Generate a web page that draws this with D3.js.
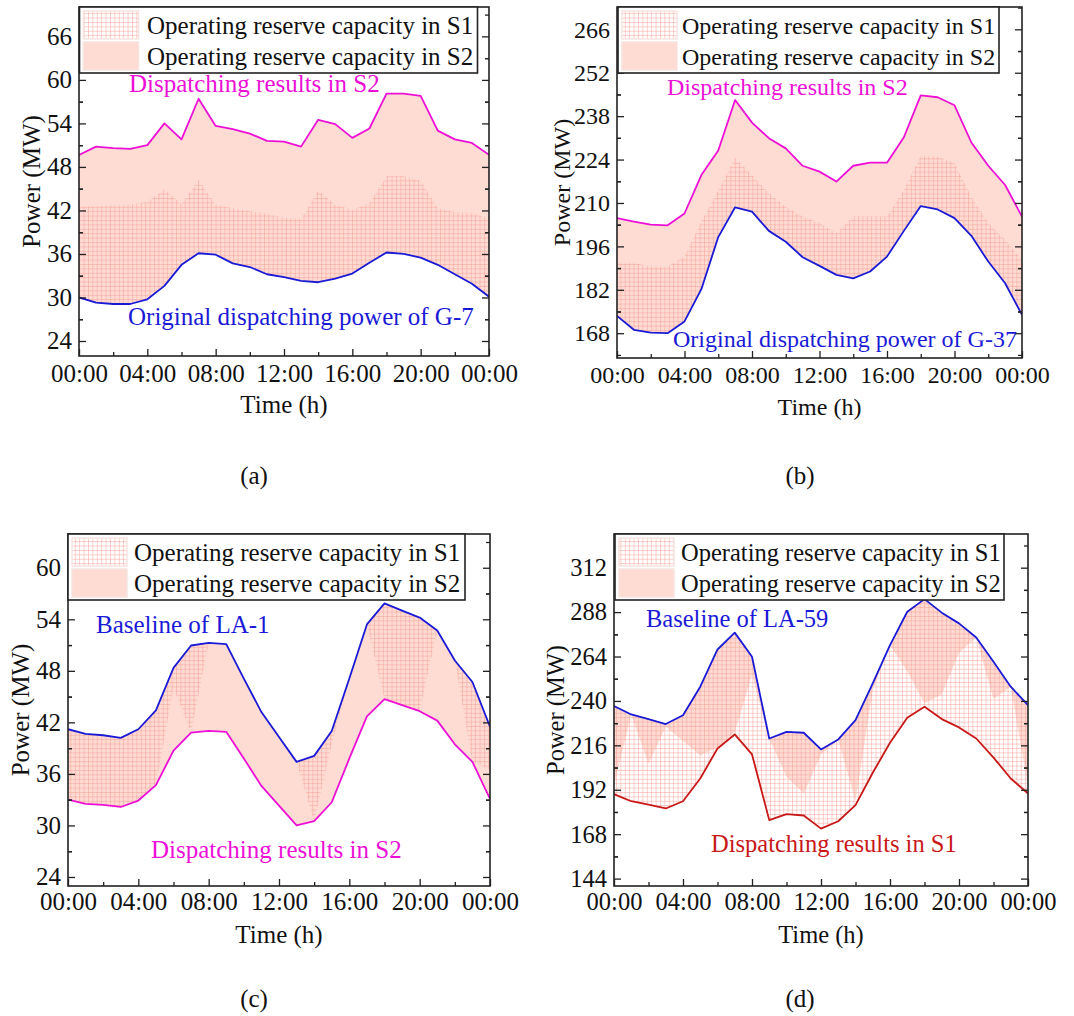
<!DOCTYPE html>
<html>
<head>
<meta charset="utf-8">
<script src="https://cdn.jsdelivr.net/npm/d3@7"></script>
<style>
  html, body { margin: 0; padding: 0; background: #fff; }
  svg text { font-family: "Liberation Serif", "Times New Roman", serif; }
</style>
</head>
<body>
<svg id="chart" width="1074" height="1016"></svg>
<script>
// ---- data ----
const hours = [0, 1, 2, 3, 4, 5, 6, 7, 8, 9, 10, 11, 12, 13, 14, 15, 16, 17, 18, 19, 20, 21, 22, 23, 24];
const xTickHours = [0, 4, 8, 12, 16, 20, 24];
const xTickLabels = ["00:00", "04:00", "08:00", "12:00", "16:00", "20:00", "00:00"];
const legendLabels = ["Operating reserve capacity in S1", "Operating reserve capacity in S2"];

// (a) G-7
const g7Original = [30.0, 29.3, 29.1, 29.1, 29.75, 31.6, 34.5, 36.1, 35.9, 34.7, 34.2, 33.2, 32.8, 32.3, 32.1, 32.6, 33.3, 34.8, 36.2, 36.0, 35.5, 34.5, 33.2, 31.9, 30.1];
const g7S1 = [42.5, 42.6, 42.7, 42.8, 43.2, 44.9, 42.9, 46.2, 42.8, 42.3, 41.9, 41.5, 41.0, 40.8, 44.8, 42.8, 42.1, 43.0, 46.7, 46.7, 46.1, 42.3, 41.8, 41.6, 40.9];
const g7S2 = [49.66, 50.8, 50.6, 50.5, 51.0, 54.0, 51.8, 57.4, 53.65, 53.2, 52.6, 51.6, 51.5, 50.8, 54.5, 53.9, 52.0, 53.3, 58.1, 58.1, 57.8, 53.0, 51.8, 51.3, 49.66];
const g7Ticks = [24, 30, 36, 42, 48, 54, 60, 66];

// (b) G-37
const g37Original = [173.6, 169.1, 168.2, 168.0, 171.8, 182.2, 199.0, 208.6, 207.2, 201.0, 197.5, 192.5, 189.7, 186.8, 185.7, 187.9, 192.7, 201.0, 209.0, 207.9, 205.1, 199.4, 191.1, 184.1, 173.9];
const g37S1 = [190.6, 190.6, 189.5, 189.5, 192.7, 204.0, 214.0, 224.5, 219.0, 213.1, 208.8, 205.6, 203.5, 200.2, 205.6, 205.6, 205.6, 214.2, 225.2, 225.0, 222.8, 212.0, 203.5, 198.1, 191.6];
const g37S2 = [205.1, 204.0, 203.0, 202.8, 206.6, 219.0, 226.9, 243.2, 235.9, 230.9, 227.6, 222.0, 220.1, 216.9, 222.0, 223.0, 223.0, 231.2, 244.7, 244.1, 241.5, 229.5, 222.0, 215.8, 205.6];
const g37Ticks = [168, 182, 196, 210, 224, 238, 252, 266];

// (c) LA-1
const la1Baseline = [41.2, 40.66, 40.5, 40.2, 41.2, 43.4, 48.35, 50.95, 51.26, 51.1, 47.1, 43.2, 40.3, 37.4, 38.1, 41.0, 47.1, 53.4, 55.85, 55.0, 54.2, 52.7, 49.2, 46.7, 41.5];
const la1S1 = [33.0, 32.5, 32.4, 32.15, 32.9, 34.7, 46.0, 40.8, 51.26, 51.1, 47.1, 43.2, 40.3, 37.4, 30.5, 39.5, 47.1, 53.4, 44.7, 44.0, 43.3, 52.7, 49.2, 37.4, 36.5];
const la1S2 = [33.0, 32.5, 32.4, 32.15, 32.9, 34.7, 38.7, 40.8, 41.0, 40.9, 37.8, 34.6, 32.3, 30.0, 30.5, 32.7, 37.8, 42.7, 44.7, 44.0, 43.3, 42.2, 39.45, 37.4, 33.1];
const la1Ticks = [24, 30, 36, 42, 48, 54, 60];

// (d) LA-59
const la59Baseline = [237.2, 232.7, 230.2, 227.5, 232.3, 247.7, 267.8, 276.9, 263.9, 219.7, 223.3, 222.8, 213.8, 219.2, 229.6, 249.5, 270.2, 288.2, 295.0, 287.7, 281.9, 274.3, 261.2, 247.7, 237.7];
const la59S1 = [189.6, 185.8, 184.0, 181.9, 185.8, 198.1, 214.3, 221.9, 211.1, 175.6, 178.8, 178.1, 171.0, 175.0, 183.7, 201.2, 217.4, 230.9, 236.8, 230.2, 225.7, 219.7, 209.4, 198.1, 190.0];
const la59S2 = [194.5, 232.5, 206, 226, 218.5, 210.5, 215, 223, 254, 219.7, 199, 190, 211, 219, 186, 246, 270.2, 256, 238.8, 243.5, 266, 274.3, 241, 247.7, 194];
const la59Ticks = [144, 168, 192, 216, 240, 264, 288, 312];

// ---- styles ----
const PINK = "#fedbd3";
const GRID = "#f49a92";
const MAGENTA = "#ec10d6";
const BLUE = "#1a1ad6";
const RED = "#c81818";

const svg = d3.select("#chart");
const defs = svg.append("defs");

const pat = defs.append("pattern")
    .attr("id", "grid")
    .attr("patternUnits", "userSpaceOnUse")
    .attr("width", 4.4)
    .attr("height", 4.4);
pat.append("path")
    .attr("d", "M0,0.5H4.4M0.5,0V4.4")
    .attr("stroke", GRID)
    .attr("stroke-width", 0.8)
    .attr("stroke-opacity", 0.6)
    .attr("fill", "none");

const panels = [
    {
        id: "a", x0: 79, x1: 489, y0: 7, y1: 356, domain: [21.93, 70.05], ticks: g7Ticks, fs: 25,
        base: g7Original, s1: g7S1, s2: g7S2,
        legend: { x: 79.5, w: 398, text: 147 },
        lines: [{ v: g7S2, c: MAGENTA }, { v: g7Original, c: BLUE }],
        notes: [
            { t: "Dispatching results in S2", x: 129, y: 92, c: MAGENTA },
            { t: "Original dispatching power of G-7", x: 128, y: 325, c: BLUE }
        ],
        yTitleX: 40, xTickY: 382, xTitleY: 413, cap: "(a)", capX: 254, capY: 484
    },
    {
        id: "b", x0: 617, x1: 1022, y0: 7, y1: 358, domain: [160, 273.2], ticks: g37Ticks, fs: 24,
        base: g37Original, s1: g37S1, s2: g37S2,
        legend: { x: 618, w: 381, text: 682 },
        lines: [{ v: g37S2, c: MAGENTA }, { v: g37Original, c: BLUE }],
        notes: [
            { t: "Dispatching results in S2", x: 667, y: 95, c: MAGENTA },
            { t: "Original dispatching power of G-37", x: 673, y: 347, c: BLUE }
        ],
        yTitleX: 570, xTickY: 383, xTitleY: 415, cap: "(b)", capX: 800, capY: 484
    },
    {
        id: "c", x0: 68, x1: 490, y0: 534, y1: 886, domain: [22.95, 63.93], ticks: la1Ticks, fs: 25,
        base: la1Baseline, s1: la1S1, s2: la1S2,
        legend: { x: 68, w: 397, text: 134 },
        lines: [{ v: la1S2, c: MAGENTA }, { v: la1Baseline, c: BLUE }],
        notes: [
            { t: "Baseline of LA-1", x: 96, y: 633, c: BLUE },
            { t: "Dispatching results in S2", x: 151, y: 858, c: MAGENTA }
        ],
        yTitleX: 29, xTickY: 910, xTitleY: 943, cap: "(c)", capX: 254, capY: 1007
    },
    {
        id: "d", x0: 614, x1: 1028, y0: 534, y1: 886, domain: [140, 330.2], ticks: la59Ticks, fs: 24.5,
        base: la59Baseline, s1: la59S1, s2: la59S2,
        legend: { x: 615, w: 389, text: 681 },
        lines: [{ v: la59S1, c: RED }, { v: la59Baseline, c: BLUE }],
        notes: [
            { t: "Baseline of LA-59", x: 646, y: 627, c: BLUE },
            { t: "Dispatching results in S1", x: 711, y: 852, c: RED }
        ],
        yTitleX: 564, xTickY: 910, xTitleY: 943, cap: "(d)", capX: 800, capY: 1007
    }
];

panels.forEach(drawPanel);

function drawPanel(p) {
    const x = d3.scaleLinear().domain([0, 24]).range([p.x0, p.x1]);
    const y = d3.scaleLinear().domain(p.domain).range([p.y1, p.y0]);
    const g = svg.append("g").attr("class", "panel-" + p.id);

    defs.append("clipPath").attr("id", "clip-" + p.id)
        .append("rect")
        .attr("x", p.x0).attr("y", p.y0)
        .attr("width", p.x1 - p.x0).attr("height", p.y1 - p.y0);

    const plot = g.append("g").attr("clip-path", `url(#clip-${p.id})`);

    const band = (upper) => d3.area()
        .x((d, i) => x(hours[i]))
        .y0((d, i) => y(p.base[i]))
        .y1((d, i) => y(upper[i]));

    // S2 reserve: solid fill
    plot.append("path")
        .datum(p.s2)
        .attr("d", band(p.s2))
        .attr("fill", PINK);

    // S1 reserve: grid hatch on top
    plot.append("path")
        .datum(p.s1)
        .attr("d", band(p.s1))
        .attr("fill", "url(#grid)");

    const line = (vals) => d3.line().x((d, i) => x(hours[i])).y(d => y(d))(vals);
    p.lines.forEach(l => {
        plot.append("path")
            .attr("d", line(l.v))
            .attr("fill", "none")
            .attr("stroke", l.c)
            .attr("stroke-width", 1.8)
            .attr("stroke-linejoin", "round");
    });

    // axes (ticks pointing inward)
    const minorY = [];
    for (let i = 0; i < p.ticks.length; i++) {
        const step = p.ticks[1] - p.ticks[0];
        minorY.push(p.ticks[i] - step / 2, p.ticks[i] + step / 2);
    }
    const yMinor = minorY.filter(v => v > p.domain[0] && v < p.domain[1]);
    const xMinor = [2, 6, 10, 14, 18, 22];

    const styleAxis = (sel) => {
        sel.select(".domain").remove();
        sel.selectAll("line").attr("stroke", "#222").attr("stroke-width", 1.3);
        sel.selectAll("text")
            .attr("fill", "#111")
            .style("font-size", p.fs + "px")
            .style("font-family", '"Liberation Serif", "Times New Roman", serif');
    };

    g.append("g").attr("transform", `translate(${p.x0},0)`)
        .call(d3.axisLeft(y).tickValues(p.ticks).tickSize(-7).tickPadding(7))
        .call(styleAxis);
    g.append("g").attr("transform", `translate(${p.x0},0)`)
        .call(d3.axisLeft(y).tickValues(yMinor).tickSize(-4).tickFormat(""))
        .call(styleAxis);
    g.append("g").attr("transform", `translate(${p.x1},0)`)
        .call(d3.axisRight(y).tickValues(p.ticks).tickSize(-7).tickFormat(""))
        .call(styleAxis);
    g.append("g").attr("transform", `translate(${p.x1},0)`)
        .call(d3.axisRight(y).tickValues(yMinor).tickSize(-4).tickFormat(""))
        .call(styleAxis);

    const xAx = g.append("g").attr("transform", `translate(0,${p.y1})`)
        .call(d3.axisBottom(x).tickValues(xTickHours).tickSize(-7)
            .tickFormat((d, i) => xTickLabels[i]))
        .call(styleAxis);
    xAx.selectAll("text").attr("y", null).attr("dy", null)
        .attr("transform", `translate(0,${p.xTickY - p.y1})`);
    g.append("g").attr("transform", `translate(0,${p.y1})`)
        .call(d3.axisBottom(x).tickValues(xMinor).tickSize(-4).tickFormat(""))
        .call(styleAxis);

    // frame
    g.append("rect")
        .attr("x", p.x0).attr("y", p.y0)
        .attr("width", p.x1 - p.x0).attr("height", p.y1 - p.y0)
        .attr("fill", "none").attr("stroke", "#222").attr("stroke-width", 1.6);

    // annotations
    p.notes.forEach(n => {
        g.append("text")
            .attr("x", n.x).attr("y", n.y)
            .attr("fill", n.c)
            .style("font-size", p.fs + "px")
            .text(n.t);
    });

    // legend
    const L = p.legend;
    const lg = g.append("g");
    lg.append("rect")
        .attr("x", L.x).attr("y", p.y0)
        .attr("width", L.w).attr("height", 66)
        .attr("fill", "#fff").attr("stroke", "#222").attr("stroke-width", 1.6);
    const sw = [{ y: p.y0 + 4, fill: "url(#grid)" }, { y: p.y0 + 35, fill: PINK }];
    sw.forEach((s, i) => {
        lg.append("rect")
            .attr("x", L.x + 4).attr("y", s.y)
            .attr("width", 55).attr("height", 28)
            .attr("fill", "#fff");
        lg.append("rect")
            .attr("x", L.x + 4).attr("y", s.y)
            .attr("width", 55).attr("height", 28)
            .attr("fill", s.fill)
            .attr("stroke", "#f6e4e0").attr("stroke-width", 1.5);
        lg.append("text")
            .attr("x", L.text).attr("y", p.y0 + 26.5 + i * 31)
            .attr("fill", "#111")
            .style("font-size", p.fs + "px")
            .text(legendLabels[i]);
    });

    // axis titles
    g.append("text")
        .attr("transform", `translate(${p.yTitleX},${(p.y0 + p.y1) / 2}) rotate(-90)`)
        .attr("text-anchor", "middle")
        .attr("fill", "#111")
        .style("font-size", p.fs + "px")
        .text("Power (MW)");
    g.append("text")
        .attr("x", (p.x0 + p.x1) / 2).attr("y", p.xTitleY)
        .attr("text-anchor", "middle")
        .attr("fill", "#111")
        .style("font-size", p.fs + "px")
        .text("Time (h)");

    // caption
    g.append("text")
        .attr("x", p.capX).attr("y", p.capY)
        .attr("text-anchor", "middle")
        .attr("fill", "#111")
        .style("font-size", "25px")
        .text(p.cap);
}
</script>
</body>
</html>
